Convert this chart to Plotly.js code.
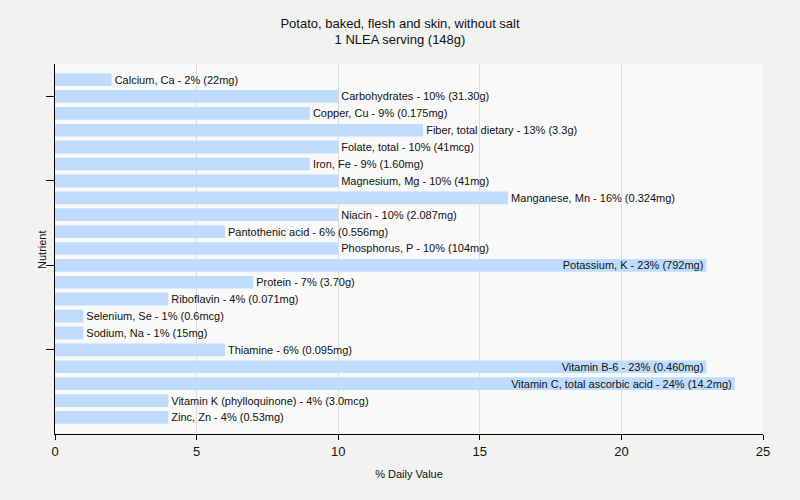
<!DOCTYPE html>
<html><head><meta charset="utf-8">
<script src="https://cdn.plot.ly/plotly-3.0.1.min.js"></script>
<style>body{margin:0;background:#f2f2f1;}#c{width:800px;height:500px;}</style>
</head><body><div id="c"></div>
<script>
var nutrients = ["Calcium, Ca","Carbohydrates","Copper, Cu","Fiber, total dietary","Folate, total","Iron, Fe","Magnesium, Mg","Manganese, Mn","Niacin","Pantothenic acid","Phosphorus, P","Potassium, K","Protein","Riboflavin","Selenium, Se","Sodium, Na","Thiamine","Vitamin B-6","Vitamin C, total ascorbic acid","Vitamin K (phylloquinone)","Zinc, Zn"];
var dailyValue = [2,10,9,13,10,9,10,16,10,6,10,23,7,4,1,1,6,23,24,4,4];
var amounts = ["22mg","31.30g","0.175mg","3.3g","41mcg","1.60mg","41mg","0.324mg","2.087mg","0.556mg","104mg","792mg","3.70g","0.071mg","0.6mcg","15mg","0.095mg","0.460mg","14.2mg","3.0mcg","0.53mg"];
var xTicks = [0,5,10,15,20,25];

var labels = nutrients.map(function(n,i){return n+" - "+dailyValue[i]+"% ("+amounts[i]+")";});
var positions = dailyValue.map(function(v){return v>=20?"inside":"outside";});
var yTicks = nutrients.filter(function(n,i){return i%5===1;});

Plotly.newPlot("c",[{
  type:"bar", orientation:"h",
  x:dailyValue, y:nutrients,
  text:labels, textposition:positions, insidetextanchor:"end",
  constraintext:"none", cliponaxis:false,
  textfont:{family:"Liberation Sans, Arial, sans-serif", size:11, color:"#111"},
  marker:{color:"#bfdbfd", line:{width:0}},
  hoverinfo:"none"
}],{
  width:800, height:500,
  paper_bgcolor:"#f2f2f1", plot_bgcolor:"#f9f9f9",
  margin:{l:55, r:37, t:64, b:66},
  bargap:0.25,
  showlegend:false,
  font:{family:"Liberation Sans, Arial, sans-serif", size:12, color:"#111"},
  title:{text:"Potato, baked, flesh and skin, without salt<br>1 NLEA serving (148g)", x:0.5, xanchor:"center", y:0.945, yanchor:"top", font:{size:13, color:"#111"}},
  xaxis:{range:[0,25], tickvals:xTicks, showgrid:true, gridcolor:"#dcdcdc", zeroline:false,
    showline:true, linecolor:"#000", linewidth:1, ticks:"outside", ticklen:5, tickcolor:"#000",
    tickfont:{size:13}, title:{text:"% Daily Value", font:{size:11}, standoff:12}},
  yaxis:{type:"category", range:[20.98,-0.92], tickvals:yTicks, ticktext:yTicks.map(function(){return "";}),
    showgrid:false, zeroline:false, showline:true, linecolor:"#000", linewidth:1,
    ticks:"outside", ticklen:8, tickcolor:"#000"},
  annotations:[{text:"Nutrient", xref:"paper", yref:"paper", x:-0.0184, y:0.5, xanchor:"center", yanchor:"middle",
    textangle:-90, showarrow:false, font:{size:11, color:"#111"}}]
},{staticPlot:true});
</script></body></html>
